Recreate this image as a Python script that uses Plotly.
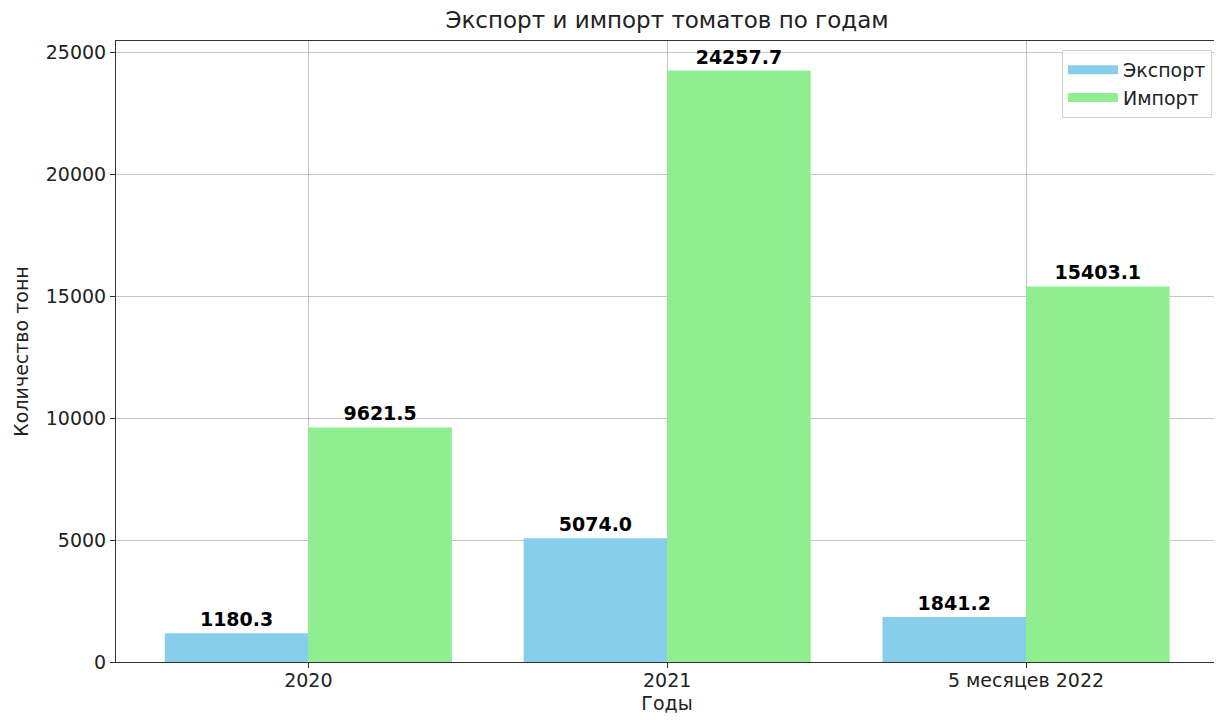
import plotly.graph_objects as go

categories = ["2020", "2021", "5 месяцев 2022"]
export_vals = [1180.3, 5074.0, 1841.2]
import_vals = [9621.5, 24257.7, 15403.1]
series_names = ["Экспорт", "Импорт"]
series_colors = ["#87CEEB", "#90EE90"]

font = "DejaVu Sans"
grid = "rgba(160,160,160,0.6)"

fig = go.Figure()
for name, vals, col in zip(series_names, [export_vals, import_vals], series_colors):
    fig.add_trace(go.Bar(
        x=categories, y=vals, name=name, marker_color=col, marker_line_width=0,
        texttemplate="<b>%{y:.1f}</b>", textposition="outside", cliponaxis=False,
        textfont=dict(family=font, size=19, color="black"), showlegend=False,
    ))
# legend proxies (wide rectangular patches like the reference)
for name, col in zip(series_names, series_colors):
    fig.add_trace(go.Scatter(
        x=[None], y=[None], mode="lines", name=name,
        line=dict(color=col, width=9), showlegend=True,
    ))

fig.update_layout(
    width=1222, height=721,
    margin=dict(l=108, r=12, t=33, b=67),
    paper_bgcolor="white", plot_bgcolor="white",
    barmode="group", bargap=0.2, bargroupgap=0,
    font=dict(family=font, size=19, color="#222"),
    title=dict(text="Экспорт и импорт томатов по годам", xref="paper", x=0.5, xanchor="center",
               y=0.983, yanchor="middle", font=dict(size=23, color="#222")),
    legend=dict(x=0.9945, y=0.9855, xanchor="right", yanchor="top",
                bordercolor="#d0d0d0", borderwidth=1, bgcolor="rgba(255,255,255,0.85)",
                font=dict(size=19, color="#222"), itemwidth=50, tracegroupgap=0),
)
fig.update_xaxes(
    title=dict(text="Годы", font=dict(size=19), standoff=6),
    range=[-0.536, 2.535],
    showgrid=True, gridcolor=grid, gridwidth=1, layer="above traces",
    showline=True, mirror=True, linecolor="#333", linewidth=1,
    ticks="outside", ticklen=5, tickcolor="#333", ticklabelstandoff=-4,
    tickfont=dict(size=19),
)
fig.update_yaxes(
    title=dict(text="Количество тонн", font=dict(size=19), standoff=12),
    range=[0, 25470], tickvals=[0, 5000, 10000, 15000, 20000, 25000],
    ticktext=["0", "5000", "10000", "15000", "20000", "25000"],
    showgrid=True, gridcolor=grid, gridwidth=1, layer="above traces",
    showline=True, mirror=True, linecolor="#333", linewidth=1,
    ticks="outside", ticklen=5, tickcolor="#333",
    tickfont=dict(size=19), zeroline=False,
)

fig.write_html("out.html")
